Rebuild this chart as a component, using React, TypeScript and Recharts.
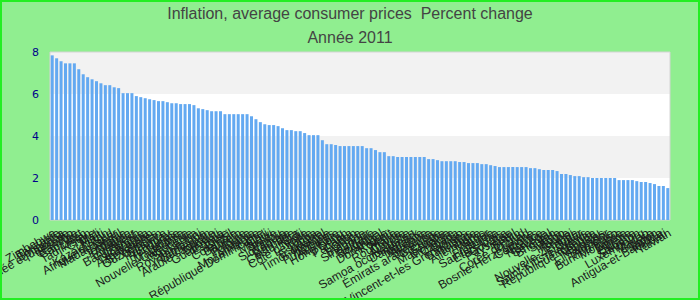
import { Bar, BarChart, CartesianGrid, ReferenceArea, XAxis, YAxis } from "recharts";

const pays = [
  "Zimbabwe", "Tanzanie", "Botswana", "Guinée équatoriale", "Lesotho", "Namibie", "Cap-Vert", "Liban", "Tadjikistan", "Chine",
  "Mali", "Haïti", "Kazakhstan", "Afrique du Sud", "Madagascar", "Népal", "Jordanie", "Albanie", "Équateur", "Bangladesh",
  "Zambie", "Nicaragua", "Azerbaïdjan", "Seychelles", "Ouzbékistan", "Maurice", "Paraguay", "Honduras", "Tunisie", "Mauritanie",
  "Nouvelle-Calédonie", "Indonésie", "Sri Lanka", "Royaume-Uni", "Jamaïque", "Cameroun", "Arabie saoudite", "Djibouti", "Guatemala", "Estonie",
  "Brésil", "Colombie", "Bahreïn", "Turquie", "Pologne", "Lituanie", "Mozambique", "République Dominicaine", "Chili", "Malawi",
  "Belize", "Pérou", "Slovaquie", "Géorgie", "Barbade", "Costa Rica", "Fidji", "Côte d'Ivoire", "Lettonie", "Tonga",
  "Espagne", "Timor oriental", "Hongrie", "Philippines", "Australie", "Hong Kong", "Oman", "Panama", "Gabon", "Grèce",
  "Bulgarie", "Singapour", "Italie", "Belgique", "Portugal", "Dominique", "Koweït", "Malte", "Roumanie", "Chypre",
  "Autriche", "Samoa occidentales", "Danemark", "Malaisie", "Mexique", "Slovénie", "Émirats arabes unis", "Grenade", "Croatie", "Macédoine",
  "Mongolie", "Canada", "Congo", "Saint-Vincent-et-les Grenadines", "Bahamas", "Islande", "Allemagne", "Maroc", "Niger", "Finlande",
  "Sainte-Lucie", "États-Unis", "Guyana", "Pays-Bas", "Israël", "Bénin", "Corée du Sud", "Tchad", "Bosnie-Herzégovine", "Comores",
  "France", "Norvège", "Sénégal", "Bhoutan", "Suède", "Togo", "Irlande", "Brunei", "Nouvelle-Zélande", "Qatar",
  "Saint-Kitts-et-Nevis", "Thaïlande", "République tchèque", "Vanuatu", "Maldives", "El Salvador", "Arménie", "Burkina Faso", "Moldavie", "Bolivie",
  "Algérie", "Ukraine", "Salomon", "Luxembourg", "Macao", "Suisse", "Japon", "Antigua-et-Barbuda", "Kiribati", "Taiwan",
];

const inflation = [
  7.84, 7.7, 7.56, 7.46, 7.46, 7.46, 7.18, 6.94, 6.8, 6.7,
  6.61, 6.51, 6.42, 6.42, 6.32, 6.28, 6.04, 6.04, 6.04, 5.9,
  5.85, 5.8, 5.75, 5.71, 5.66, 5.66, 5.61, 5.56, 5.56, 5.52,
  5.52, 5.52, 5.47, 5.32, 5.28, 5.23, 5.18, 5.18, 5.18, 5.04,
  5.04, 5.04, 5.04, 5.04, 5.04, 4.94, 4.8, 4.66, 4.56, 4.52,
  4.52, 4.47, 4.37, 4.28, 4.28, 4.23, 4.23, 4.14, 4.04, 4.04,
  4.04, 3.8, 3.61, 3.61, 3.57, 3.52, 3.52, 3.52, 3.52, 3.52,
  3.52, 3.42, 3.42, 3.33, 3.23, 3.23, 3.04, 3.04, 3.0, 3.0,
  3.0, 3.0, 3.0, 3.0, 3.0, 2.9, 2.9, 2.85, 2.8, 2.8,
  2.8, 2.8, 2.76, 2.76, 2.71, 2.71, 2.71, 2.66, 2.66, 2.61,
  2.57, 2.52, 2.52, 2.52, 2.52, 2.52, 2.52, 2.52, 2.47, 2.47,
  2.42, 2.38, 2.38, 2.38, 2.33, 2.19, 2.19, 2.14, 2.09, 2.09,
  2.04, 2.04, 2.0, 2.0, 2.0, 2.0, 2.0, 2.0, 1.9, 1.9,
  1.9, 1.9, 1.85, 1.81, 1.81, 1.76, 1.71, 1.62, 1.62, 1.52,
];

const yTicks = [0, 2, 4, 6, 8];

const titre = "Inflation, average consumer prices  Percent change";
const sousTitre = "Année 2011";

const data = pays.map((p, i) => ({ pays: p, valeur: inflation[i] }));

const titreStyle = {
  position: "absolute" as const,
  left: 0,
  width: 696,
  textAlign: "center" as const,
  fontSize: 16,
  lineHeight: "20px",
  color: "#444",
  whiteSpace: "pre" as const,
};

export default function App() {
  return (
    <div
      style={{
        position: "absolute",
        left: 0,
        top: 0,
        width: 700,
        height: 300,
        boxSizing: "border-box",
        border: "2px solid #22ee22",
        background: "#90ee90",
        fontFamily: "'Liberation Sans', Arial, sans-serif",
      }}
    >
      <div style={{ ...titreStyle, top: 2 }}>{titre}</div>
      <div style={{ ...titreStyle, top: 26 }}>{sousTitre}</div>
      <BarChart
        width={696}
        height={296}
        data={data}
        margin={{ top: 50, right: 28, left: 8, bottom: 8 }}
        barCategoryGap="16%"
      >
        <CartesianGrid vertical={false} stroke="none" horizontalFill={["#f2f2f2", "#ffffff"]} />
        <XAxis
          dataKey="pays"
          interval={0}
          angle={-30}
          textAnchor="end"
          height={70}
          tickLine={false}
          axisLine={false}
          tick={{ fontSize: 12, fill: "#1a1a1a" }}
        />
        <YAxis
          width={40}
          domain={[0, 8]}
          ticks={yTicks}
          tickLine={false}
          axisLine={false}
          tickMargin={5}
          tick={{ fontSize: 11, fill: "#00008b", fontFamily: "'DejaVu Sans', sans-serif" }}
        />
        <Bar dataKey="valeur" fill="#63a9f1" isAnimationActive={false} />
        <ReferenceArea y1={0} y2={8} fill="none" stroke="#d4d4d4" strokeWidth={1} />
      </BarChart>
    </div>
  );
}
